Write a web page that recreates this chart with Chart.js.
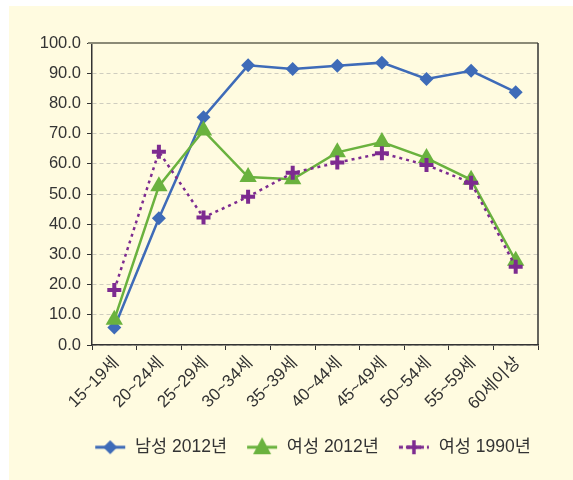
<!DOCTYPE html>
<html>
<head>
<meta charset="utf-8">
<script src="https://cdn.jsdelivr.net/npm/chart.js@4.4.1/dist/chart.umd.min.js"></script>
<style>
  body { margin: 0; background: #fff; }
  #wrap { width: 573px; height: 480px; }
</style>
</head>
<body>
<div id="wrap"><canvas id="myChart" width="573" height="480"></canvas></div>
<script>
// age groups and participation rates (%)
const ageGroups = ['15~19세', '20~24세', '25~29세', '30~34세', '35~39세', '40~44세', '45~49세', '50~54세', '55~59세', '60세이상'];
const men2012 = [5.8, 42.0, 75.4, 92.6, 91.4, 92.5, 93.5, 88.1, 90.8, 83.7];
const women2012 = [8.4, 52.6, 71.0, 55.6, 54.9, 63.8, 67.2, 61.9, 54.7, 27.9];
const women1990 = [18.2, 64.0, 42.2, 49.1, 57.0, 60.4, 63.5, 59.6, 53.7, 25.9];
const seriesNames = ['남성 2012년', '여성 2012년', '여성 1990년'];

const BLUE = '#3e6bb8';
const GREEN = '#6ab23e';
const PURPLE = '#7d2b90';
const FONT = '"Liberation Sans", "Noto Sans CJK KR", sans-serif';

// legend icon: blank gap on the left, then a line segment with the marker in the middle
const GAP = 17;
function legendIcon (color, style, dash) {
  const c = document.createElement('canvas');
  c.width = 32 + GAP; c.height = 22;
  const g = c.getContext('2d');
  g.translate(GAP, 0);
  g.strokeStyle = color;
  g.fillStyle = color;
  g.lineWidth = 3;
  g.setLineDash(dash);
  g.beginPath(); g.moveTo(1, 11); g.lineTo(31, 11); g.stroke();
  g.setLineDash([]);
  g.beginPath();
  if (style === 'rectRot') {
    g.moveTo(16, 4); g.lineTo(23, 11); g.lineTo(16, 18); g.lineTo(9, 11);
    g.closePath(); g.fill();
  } else if (style === 'triangle') {
    g.moveTo(16, 1); g.lineTo(25, 18); g.lineTo(7, 18);
    g.closePath(); g.fill();
  } else {
    g.lineWidth = 3.5;
    g.moveTo(16, 4); g.lineTo(16, 18); g.moveTo(9, 11); g.lineTo(23, 11); g.stroke();
  }
  return c;
}

const icons = [
  legendIcon(BLUE, 'rectRot', []),
  legendIcon(GREEN, 'triangle', []),
  legendIcon(PURPLE, 'cross', [4, 3])
];

const frame = {
  id: 'frame',
  beforeDraw (chart) {
    const ctx = chart.ctx;
    ctx.save();
    ctx.fillStyle = '#fffbe0';
    ctx.fillRect(9, 6, 564, 474);
    ctx.restore();
  },
  beforeDatasetsDraw (chart) {
    const a = chart.chartArea;
    const ctx = chart.ctx;
    ctx.save();
    ctx.strokeStyle = '#8b8a76';
    ctx.lineWidth = 2;
    ctx.beginPath(); ctx.moveTo(a.left - 4, a.top); ctx.lineTo(a.right, a.top); ctx.stroke();
    ctx.strokeStyle = '#333';
    ctx.lineWidth = 1.5;
    ctx.beginPath(); ctx.moveTo(a.right, a.top); ctx.lineTo(a.right, a.bottom); ctx.stroke();
    ctx.restore();
  }
};

const ctx = document.getElementById('myChart');

new Chart(ctx, {
  type: 'line',
  data: {
    labels: ageGroups,
    datasets: [{
      label: seriesNames[0],
      data: men2012,
      borderColor: BLUE,
      backgroundColor: BLUE,
      borderWidth: 2.5,
      pointStyle: 'rectRot',
      pointRadius: 7,
      pointHoverRadius: 7,
      pointBorderWidth: 0,
      order: 3
    }, {
      label: seriesNames[1],
      data: women2012,
      borderColor: GREEN,
      backgroundColor: GREEN,
      borderWidth: 2.5,
      pointStyle: 'triangle',
      pointRadius: 10,
      pointHoverRadius: 10,
      pointBorderWidth: 0,
      order: 2
    }, {
      label: seriesNames[2],
      data: women1990,
      borderColor: PURPLE,
      backgroundColor: PURPLE,
      borderWidth: 2.5,
      borderDash: [3, 4],
      pointStyle: 'cross',
      pointRadius: 7,
      pointHoverRadius: 7,
      pointBorderWidth: 4,
      pointBorderColor: PURPLE,
      order: 1
    }]
  },
  options: {
    responsive: false,
    animation: false,
    layout: { padding: { top: 43, right: 0, left: 35, bottom: 14 } },
    plugins: {
      tooltip: { enabled: false },
      legend: {
        position: 'bottom',
        labels: {
          usePointStyle: true,
          pointStyleWidth: 32 + GAP,
          padding: 2,
          color: '#333',
          font: { family: FONT, size: 17.5 },
          generateLabels: (chart) => chart.data.datasets.map((ds, i) => ({
            text: ds.label,
            pointStyle: icons[i],
            fillStyle: ds.borderColor,
            strokeStyle: ds.borderColor,
            lineWidth: 0,
            fontColor: '#333',
            datasetIndex: i
          }))
        }
      }
    },
    scales: {
      x: {
        offset: true,
        grid: {
          offset: true,
          drawOnChartArea: false,
          drawTicks: true,
          tickLength: 5,
          tickColor: '#333',
          color: '#333'
        },
        border: { color: '#333', width: 1.5 },
        ticks: {
          minRotation: 45,
          maxRotation: 45,
          color: '#333',
          padding: 3,
          labelOffset: 2,
          font: { family: FONT, size: 17 }
        },
        afterFit (scale) { scale.height = 91.5; }
      },
      y: {
        min: 0,
        max: 100,
        ticks: {
          stepSize: 10,
          color: '#333',
          padding: 6,
          font: { family: FONT, size: 16.5 },
          callback: (v) => v.toFixed(1)
        },
        grid: {
          color: '#cfcdbf',
          tickColor: '#333',
          tickLength: 5,
          lineWidth: 1
        },
        border: { color: '#333', width: 1.5, dash: [4, 3] },
        afterFit (scale) { scale.width = 57; }
      },
      // empty right-hand spacer keeps the plot narrower than the legend row
      spacer: {
        position: 'right',
        display: true,
        ticks: { display: false },
        grid: { display: false },
        border: { display: false },
        afterFit (scale) { scale.width = 35; }
      }
    }
  },
  plugins: [frame]
});
</script>
</body>
</html>
